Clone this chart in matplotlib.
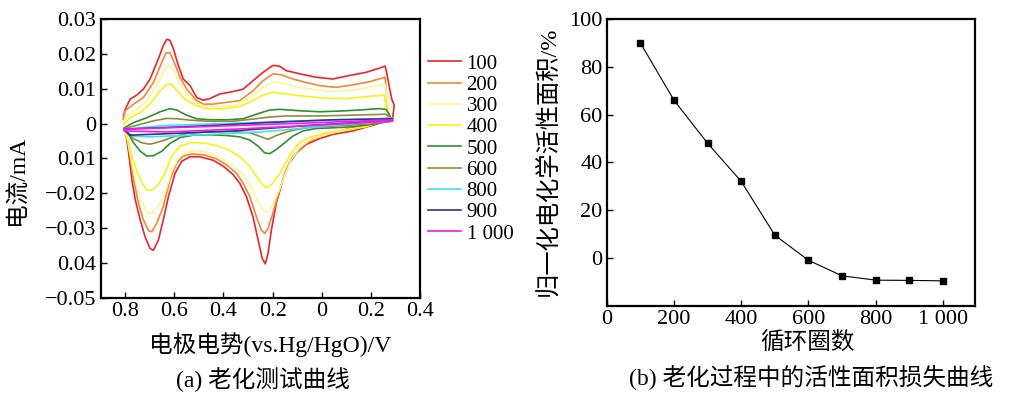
import matplotlib
matplotlib.use("Agg")
import matplotlib.pyplot as plt

# ---- (a) CV curves during ageing: potential (V) and current (mA), one closed loop per cycle
cycles = ["100", "200", "300", "400", "500", "600", "800", "900", "1 000"]

e_100 = [-0.807, -0.800, -0.780, -0.753, -0.726, -0.699, -0.665, -0.645, -0.631, -0.618, -0.604,
         -0.584, -0.564, -0.536, -0.509, -0.482, -0.455, -0.415, -0.361, -0.320, -0.280, -0.239,
         -0.199, -0.172, -0.145, -0.091, -0.023, 0.045, 0.112, 0.180, 0.234, 0.258, 0.264, 0.274,
         0.285, 0.295,
         0.288, 0.207, 0.126, 0.045, -0.009, -0.064, -0.104, -0.131, -0.158, -0.185, -0.205, -0.219,
         -0.230, -0.242, -0.259, -0.280, -0.307, -0.334, -0.361, -0.401, -0.442, -0.496, -0.536,
         -0.570, -0.597, -0.624, -0.645, -0.665, -0.685, -0.699, -0.719, -0.739, -0.759, -0.773,
         -0.786, -0.796, -0.804]
i_100 = [0.0022, 0.0041, 0.0070, 0.0082, 0.0099, 0.0128, 0.0186, 0.0224, 0.0242, 0.0239, 0.0215,
         0.0167, 0.0128, 0.0109, 0.0075, 0.0067, 0.0072, 0.0085, 0.0092, 0.0099, 0.0123, 0.0147,
         0.0167, 0.0165, 0.0152, 0.0143, 0.0133, 0.0128, 0.0138, 0.0147, 0.0159, 0.0165, 0.0147,
         0.0109, 0.0070, 0.0053,
         0.0013, -0.0005, -0.0021, -0.0031, -0.0043, -0.0060, -0.0084, -0.0113, -0.0161, -0.0228,
         -0.0305, -0.0373, -0.0402, -0.0387, -0.0334, -0.0267, -0.0209, -0.0171, -0.0146, -0.0122,
         -0.0105, -0.0095, -0.0095, -0.0108, -0.0142, -0.0209, -0.0276, -0.0334, -0.0363, -0.0358,
         -0.0325, -0.0276, -0.0219, -0.0161, -0.0084, -0.0036, -0.0016]

e_200 = [-0.809, -0.800, -0.766, -0.726, -0.685, -0.651, -0.634, -0.618, -0.601, -0.577, -0.550,
         -0.509, -0.482, -0.442, -0.388, -0.334, -0.280, -0.239, -0.199, -0.165, -0.118, -0.064,
         -0.009, 0.058, 0.126, 0.193, 0.258, 0.264, 0.274,
         0.180, 0.099, 0.018, -0.036, -0.077, -0.118, -0.145, -0.172, -0.199, -0.219, -0.232, -0.246,
         -0.266, -0.293, -0.320, -0.347, -0.388, -0.428, -0.482, -0.530, -0.564, -0.591, -0.618,
         -0.645, -0.672, -0.692, -0.705, -0.726, -0.746, -0.766, -0.782, -0.796, -0.804]
i_200 = [0.0013, 0.0037, 0.0056, 0.0075, 0.0118, 0.0176, 0.0203, 0.0203, 0.0176, 0.0133, 0.0099,
         0.0066, 0.0056, 0.0056, 0.0061, 0.0066, 0.0094, 0.0123, 0.0143, 0.0140, 0.0128, 0.0118,
         0.0109, 0.0104, 0.0111, 0.0120, 0.0133, 0.0080, 0.0017,
         -0.0005, -0.0016, -0.0031, -0.0045, -0.0065, -0.0093, -0.0132, -0.0190, -0.0257, -0.0301,
         -0.0315, -0.0305, -0.0267, -0.0209, -0.0171, -0.0142, -0.0118, -0.0101, -0.0089, -0.0087,
         -0.0093, -0.0113, -0.0161, -0.0238, -0.0286, -0.0310, -0.0307, -0.0276, -0.0228, -0.0161,
         -0.0084, -0.0031, -0.0016]

e_300 = [-0.807, -0.793, -0.753, -0.712, -0.672, -0.638, -0.622, -0.604, -0.577, -0.543, -0.503,
         -0.469, -0.415, -0.347, -0.293, -0.239, -0.199, -0.158, -0.091, -0.023, 0.045, 0.126,
         0.193, 0.258, 0.268, 0.277,
         0.180, 0.099, 0.018, -0.050, -0.091, -0.124, -0.151, -0.178, -0.205, -0.226, -0.242, -0.266,
         -0.293, -0.320, -0.361, -0.401, -0.455, -0.509, -0.550, -0.584, -0.611, -0.638, -0.665,
         -0.692, -0.712, -0.732, -0.753, -0.773, -0.791, -0.804]
i_300 = [0.0003, 0.0022, 0.0041, 0.0066, 0.0109, 0.0157, 0.0167, 0.0152, 0.0114, 0.0080, 0.0056,
         0.0049, 0.0049, 0.0053, 0.0075, 0.0104, 0.0120, 0.0117, 0.0104, 0.0097, 0.0092, 0.0096,
         0.0104, 0.0113, 0.0061, 0.0013,
         -0.0007, -0.0018, -0.0031, -0.0047, -0.0069, -0.0103, -0.0151, -0.0199, -0.0238, -0.0254,
         -0.0246, -0.0214, -0.0175, -0.0146, -0.0122, -0.0103, -0.0084, -0.0077, -0.0081, -0.0098,
         -0.0137, -0.0199, -0.0238, -0.0257, -0.0255, -0.0224, -0.0180, -0.0113, -0.0045, -0.0016]

e_400 = [-0.807, -0.780, -0.739, -0.699, -0.658, -0.631, -0.614, -0.591, -0.557, -0.516, -0.469,
         -0.401, -0.334, -0.280, -0.239, -0.199, -0.145, -0.064, 0.018, 0.099, 0.180, 0.254, 0.274,
         0.180, 0.099, 0.018, -0.050, -0.091, -0.124, -0.151, -0.178, -0.205, -0.226, -0.242, -0.266,
         -0.293, -0.334, -0.374, -0.428, -0.482, -0.536, -0.577, -0.611, -0.638, -0.665, -0.692,
         -0.712, -0.732, -0.753, -0.773, -0.786, -0.800]
i_400 = [-0.0002, 0.0017, 0.0032, 0.0056, 0.0094, 0.0112, 0.0113, 0.0097, 0.0070, 0.0053, 0.0043,
         0.0043, 0.0049, 0.0066, 0.0082, 0.0090, 0.0085, 0.0078, 0.0073, 0.0072, 0.0077, 0.0082, 0.0013,
         -0.0009, -0.0018, -0.0026, -0.0040, -0.0055, -0.0084, -0.0118, -0.0151, -0.0175, -0.0184,
         -0.0175, -0.0151, -0.0122, -0.0095, -0.0077, -0.0063, -0.0055, -0.0055, -0.0065, -0.0093,
         -0.0142, -0.0175, -0.0192, -0.0190, -0.0171, -0.0137, -0.0093, -0.0055, -0.0021]

e_500 = [-0.804, -0.766, -0.712, -0.658, -0.618, -0.591, -0.550, -0.509, -0.455, -0.388, -0.320,
         -0.266, -0.212, -0.172, -0.091, -0.009, 0.072, 0.153, 0.234, 0.261, 0.274,
         0.288, 0.207, 0.126, 0.045, -0.023, -0.077, -0.118, -0.151, -0.185, -0.212, -0.232, -0.259,
         -0.293, -0.334, -0.388, -0.455, -0.523, -0.577, -0.618, -0.651, -0.685, -0.712, -0.739,
         -0.766, -0.786, -0.800]
i_500 = [-0.0012, 0.0003, 0.0017, 0.0034, 0.0043, 0.0039, 0.0024, 0.0014, 0.0011, 0.0011, 0.0014,
         0.0027, 0.0039, 0.0041, 0.0037, 0.0034, 0.0036, 0.0039, 0.0043, 0.0041, 0.0027,
         0.0008, -0.0002, -0.0009, -0.0012, -0.0014, -0.0021, -0.0036, -0.0055, -0.0074, -0.0086,
         -0.0084, -0.0065, -0.0047, -0.0038, -0.0034, -0.0032, -0.0033, -0.0040, -0.0057, -0.0079,
         -0.0092, -0.0093, -0.0079, -0.0055, -0.0031, -0.0016]

e_600 = [-0.804, -0.753, -0.685, -0.631, -0.591, -0.536, -0.469, -0.361, -0.280, -0.212, -0.145,
         -0.023, 0.112, 0.261, 0.281,
         0.288, 0.180, 0.045, -0.064, -0.131, -0.185, -0.219, -0.246, -0.293, -0.361, -0.455, -0.550,
         -0.604, -0.651, -0.699, -0.732, -0.766, -0.793]
i_600 = [-0.0014, -0.0005, 0.0008, 0.0015, 0.0014, 0.0010, 0.0007, 0.0007, 0.0013, 0.0019, 0.0022,
         0.0022, 0.0024, 0.0027, 0.0017,
         0.0007, -0.0002, -0.0007, -0.0012, -0.0021, -0.0034, -0.0045, -0.0038, -0.0026, -0.0023,
         -0.0023, -0.0028, -0.0038, -0.0050, -0.0059, -0.0055, -0.0043, -0.0026]

e_800 = [-0.804, -0.631, -0.361, -0.091, 0.180, 0.288,
         0.288, 0.045, -0.199, -0.253, -0.361, -0.564, -0.699, -0.766, -0.800]
i_800 = [-0.0016, -0.0005, 0.0001, 0.0008, 0.0013, 0.0016,
         0.0008, -0.0005, -0.0021, -0.0024, -0.0028, -0.0034, -0.0038, -0.0036, -0.0021]

e_900 = [-0.804, -0.496, -0.226, 0.045, 0.288,
         0.288, -0.091, -0.361, -0.631, -0.780, -0.804]
i_900 = [-0.0016, -0.0007, 0.0003, 0.0011, 0.0014,
         0.0010, -0.0007, -0.0021, -0.0029, -0.0033, -0.0018]

e_1000 = [-0.804, -0.496, -0.091, 0.288,
          0.288, -0.091, -0.361, -0.631, -0.804]
i_1000 = [-0.0016, -0.0009, 0.0001, 0.0011,
          0.0007, -0.0007, -0.0016, -0.0024, -0.0021]

cv_e = [e_100, e_200, e_300, e_400, e_500, e_600, e_800, e_900, e_1000]
cv_i = [i_100, i_200, i_300, i_400, i_500, i_600, i_800, i_900, i_1000]
cv_colors = ["#e8262a", "#f0873a", "#fbf79a", "#f7f21a", "#2f8f2f",
             "#8e8c3e", "#3fe3ee", "#323285", "#f01cf0"]

a_xticks = [-0.8, -0.6, -0.4, -0.2, 0, 0.2, 0.4]
a_xticklabels = ["0.8", "0.6", "0.4", "0.2", "0", "0.2", "0.4"]
a_yticks = [0.03, 0.02, 0.01, 0, -0.01, -0.02, -0.03, -0.04, -0.05]
a_yticklabels = ["0.03", "0.02", "0.01", "0", "0.01", "\u22120.02", "\u22120.03", "0.04", "\u22120.05"]

# ---- (b) normalised electrochemically active area vs cycle number
cycle_num = [100, 200, 300, 400, 500, 600, 700, 800, 900, 1000]
area_pct = [90, 66, 48, 32, 9.5, -1, -7.5, -9.3, -9.4, -9.6]
b_xticks = [0, 200, 400, 600, 800, 1000]
b_xticklabels = ["0", "200", "400", "600", "800", "1 000"]
b_yticks = [0, 20, 40, 60, 80, 100]

SERIF = "Liberation Serif"
MIXED = ["Liberation Serif", "Noto Sans CJK SC"]
plt.rcParams["font.family"] = MIXED

fig = plt.figure(figsize=(10.24, 3.96), dpi=100)

ax1 = fig.add_axes([0.0983, 0.2475, 0.3119, 0.7045])
for e, i, c, lab in zip(cv_e, cv_i, cv_colors, cycles):
    ax1.plot(e, i, color=c, linewidth=1.2, label=lab)
ax1.set_xlim(-0.9, 0.4)
ax1.set_ylim(-0.05, 0.03)
ax1.set_xticks(a_xticks)
ax1.set_xticklabels(a_xticklabels)
ax1.set_yticks(a_yticks)
ax1.set_yticklabels(a_yticklabels)

ax2 = fig.add_axes([0.5925, 0.228, 0.3596, 0.724])
ax2.plot(cycle_num, area_pct, color="black", linewidth=0.8, marker="s", markersize=4.5)
ax2.set_xlim(0, 1095)
ax2.set_ylim(-20, 100)
ax2.set_xticks(b_xticks)
ax2.set_xticklabels(b_xticklabels)
ax2.set_yticks(b_yticks)

for ax in (ax1, ax2):
    for s in ax.spines.values():
        s.set_linewidth(1.6)
    ax.tick_params(direction="in", length=4, width=1, pad=3, labelsize=16)
    for t in ax.get_xticklabels() + ax.get_yticklabels():
        t.set_family(SERIF)

leg = fig.legend(loc="upper left", bbox_to_anchor=(428 / 1024, 1 - 54 / 396), frameon=False,
                 fontsize=15, handlelength=1.6, handletextpad=0.25, labelspacing=0.08,
                 borderpad=0, borderaxespad=0)
for t in leg.get_texts():
    t.set_family(SERIF)

# axis titles and captions
fig.text(18 / 1024, 1 - 180 / 396, "电流/mA", rotation=90, ha="center", va="center", fontsize=17)
fig.text(270 / 1024, 1 - 345 / 396, "电极电势(vs.Hg/HgO)/V", ha="center", va="center", fontsize=17)
fig.text(263 / 1024, 1 - 380 / 396, "(a) 老化测试曲线", ha="center", va="center", fontsize=17)
fig.text(548 / 1024, 1 - 161 / 396, "归一化电化学活性面积/%", rotation=90, ha="center", va="center",
         fontsize=17.5)
fig.text(807 / 1024, 1 - 343 / 396, "循环圈数", ha="center", va="center", fontsize=17)
fig.text(811 / 1024, 1 - 378 / 396, "(b) 老化过程中的活性面积损失曲线", ha="center", va="center",
         fontsize=17)

fig.savefig("out.png", dpi=100)
